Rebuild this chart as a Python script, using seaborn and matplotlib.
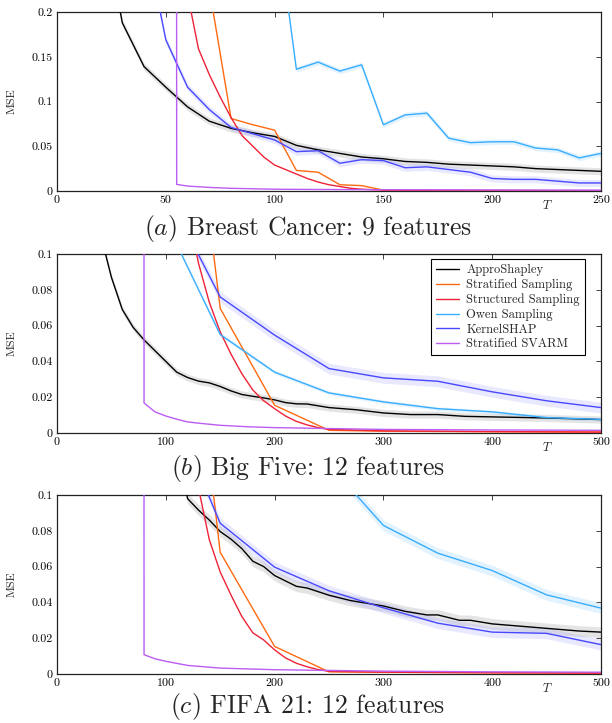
import numpy as np
import pandas as pd
import matplotlib
matplotlib.use("Agg")
import matplotlib.pyplot as plt
import seaborn as sns

# ---------------- data ----------------
methods = ["ApproShapley", "Stratified Sampling", "Structured Sampling",
           "Owen Sampling", "KernelSHAP", "Stratified SVARM"]
colors = ["#000000", "#FF6A10", "#EE2236", "#38AEFF", "#4848FF", "#BB5CF2"]

# Panel (a) Breast Cancer
a_appro_T = [20, 30, 40, 50, 60, 70, 80, 90, 100, 110, 120, 130, 140, 150, 160, 170, 180, 190, 200, 210, 220, 230, 240, 250]
a_appro = [0.32, 0.188, 0.139, 0.116, 0.094, 0.078, 0.070, 0.065, 0.061, 0.051, 0.046, 0.042, 0.038, 0.036, 0.033, 0.032, 0.030, 0.029, 0.028, 0.027, 0.025, 0.024, 0.023, 0.022]
a_strat_T = [70, 80, 90, 100, 110, 120, 130, 140, 150, 200, 250]
a_strat = [0.226, 0.081, 0.074, 0.068, 0.023, 0.021, 0.007, 0.006, 0.001, 0.0005, 0.0003]
a_struct_T = [60, 65, 70, 75, 80, 85, 90, 95, 100, 105, 110, 115, 120, 125, 130, 135, 140, 150, 175, 200, 250]
a_struct = [0.22, 0.159, 0.130, 0.105, 0.082, 0.062, 0.050, 0.038, 0.029, 0.024, 0.019, 0.014, 0.010, 0.007, 0.005, 0.003, 0.002, 0.001, 0.0006, 0.0004, 0.0003]
a_owen_T = [100, 110, 120, 130, 140, 150, 160, 170, 180, 190, 200, 210, 220, 230, 240, 250]
a_owen = [0.32, 0.136, 0.144, 0.134, 0.141, 0.074, 0.085, 0.087, 0.059, 0.054, 0.055, 0.055, 0.048, 0.046, 0.037, 0.042]
a_kernel_T = [40, 50, 60, 70, 80, 90, 100, 110, 120, 130, 140, 150, 160, 170, 180, 190, 200, 210, 220, 230, 240, 250]
a_kernel = [0.29, 0.169, 0.116, 0.091, 0.071, 0.064, 0.057, 0.044, 0.045, 0.031, 0.035, 0.034, 0.026, 0.027, 0.024, 0.021, 0.014, 0.013, 0.013, 0.011, 0.009, 0.009]
a_svarm_T = [50, 55, 60, 70, 80, 90, 100, 120, 150, 200, 250]
a_svarm = [30.0, 0.0074, 0.0055, 0.004, 0.003, 0.0025, 0.002, 0.0017, 0.0014, 0.0012, 0.001]

# Panel (b) Big Five
b_appro_T = [40, 50, 60, 70, 80, 90, 100, 110, 120, 130, 140, 150, 160, 170, 180, 190, 200, 210, 220, 230, 250, 275, 300, 325, 350, 375, 400, 450, 500]
b_appro = [0.111, 0.087, 0.069, 0.059, 0.052, 0.046, 0.040, 0.034, 0.031, 0.029, 0.028, 0.026, 0.0235, 0.0215, 0.0205, 0.0196, 0.0185, 0.017, 0.0163, 0.0162, 0.0142, 0.013, 0.0112, 0.0103, 0.0103, 0.0093, 0.009, 0.0084, 0.0075]
b_strat_T = [100, 150, 200, 250, 300, 400, 500]
b_strat = [0.32, 0.0696, 0.0155, 0.0015, 0.001, 0.0007, 0.0005]
b_struct_T = [120, 130, 140, 150, 160, 170, 180, 190, 200, 210, 220, 230, 240, 250, 300, 400, 500]
b_struct = [0.125, 0.095, 0.073, 0.0565, 0.044, 0.033, 0.024, 0.018, 0.0136, 0.0095, 0.0065, 0.0045, 0.003, 0.002, 0.0012, 0.0008, 0.0005]
b_owen_T = [100, 150, 200, 250, 300, 350, 400, 450, 500]
b_owen = [0.118, 0.055, 0.034, 0.0224, 0.0174, 0.0136, 0.0118, 0.0086, 0.0076]
b_kernel_T = [100, 150, 200, 250, 300, 350, 400, 450, 500]
b_kernel = [0.135, 0.076, 0.0547, 0.036, 0.0308, 0.0289, 0.023, 0.018, 0.0142]
b_svarm_T = [70, 80, 90, 100, 110, 120, 130, 150, 175, 200, 250, 300, 400, 500]
b_svarm = [30.0, 0.0168, 0.0118, 0.0095, 0.0077, 0.0062, 0.0055, 0.0043, 0.0035, 0.003, 0.0025, 0.002, 0.0017, 0.0015]

# Panel (c) FIFA 21
c_appro_T = [110, 120, 130, 140, 150, 160, 170, 180, 190, 200, 210, 220, 230, 240, 250, 260, 270, 280, 290, 300, 310, 320, 330, 340, 350, 360, 370, 380, 390, 400, 420, 440, 460, 480, 500]
c_appro = [0.13, 0.098, 0.0916, 0.086, 0.0796, 0.0753, 0.070, 0.063, 0.060, 0.055, 0.052, 0.049, 0.048, 0.046, 0.044, 0.0425, 0.041, 0.040, 0.039, 0.038, 0.0365, 0.035, 0.034, 0.033, 0.033, 0.0315, 0.030, 0.030, 0.029, 0.028, 0.027, 0.026, 0.025, 0.024, 0.0234]
c_strat_T = [100, 150, 200, 250, 300, 400, 500]
c_strat = [0.33, 0.068, 0.0154, 0.0012, 0.001, 0.0007, 0.0005]
c_struct_T = [120, 130, 140, 150, 160, 170, 180, 190, 200, 210, 220, 230, 240, 250, 300, 400, 500]
c_struct = [0.14, 0.104, 0.075, 0.057, 0.044, 0.032, 0.023, 0.019, 0.0135, 0.009, 0.006, 0.004, 0.0025, 0.0015, 0.001, 0.0007, 0.0005]
c_owen_T = [250, 300, 350, 400, 450, 500]
c_owen = [0.117, 0.083, 0.0675, 0.0578, 0.0442, 0.0368]
c_kernel_T = [100, 150, 200, 250, 300, 350, 400, 450, 500]
c_kernel = [0.157, 0.0842, 0.0597, 0.0465, 0.037, 0.0284, 0.0234, 0.0227, 0.0164]
c_svarm_T = [70, 80, 90, 100, 120, 150, 200, 250, 300, 400, 500]
c_svarm = [30.0, 0.0108, 0.0085, 0.0071, 0.0048, 0.0033, 0.0024, 0.002, 0.0016, 0.0012, 0.001]

# confidence half-widths (ApproShapley, Owen, KernelSHAP) per panel
a_band = [0.004, 0.003, 0.004]
b_band = [0.002, 0.001, 0.003]
c_band = [0.003, 0.003, 0.003]

captions = ["Breast Cancer: 9 features", "Big Five: 12 features", "FIFA 21: 12 features"]
letters = ["a", "b", "c"]
a_xticks = [0, 50, 100, 150, 200, 250]
bc_xticks = [0, 100, 200, 300, 400, 500]
a_yticks = [0, 0.05, 0.1, 0.15, 0.2]
a_yticklabels = ["0", "0.05", "0.1", "0.15", "0.2"]
bc_yticks = [0, 0.02, 0.04, 0.06, 0.08, 0.1]
bc_yticklabels = ["0", "0.02", "0.04", "0.06", "0.08", "0.1"]

# ---------------- style ----------------
sns.set_theme(style="white")
plt.rcParams["font.family"] = ["cmr10", "DejaVu Serif"]
plt.rcParams["mathtext.fontset"] = "cm"
plt.rcParams["axes.formatter.use_mathtext"] = True
plt.rcParams["axes.unicode_minus"] = False

fig = plt.figure(figsize=(6.12, 7.23), dpi=100)
W, H = 612, 723
ax_px = [(57, 12, 601, 191), (57, 254, 601, 433), (57, 495, 601, 674)]
caption_y = [229, 469, 707]

panels = [
    dict(series=[(a_appro_T, a_appro), (a_strat_T, a_strat), (a_struct_T, a_struct),
                 (a_owen_T, a_owen), (a_kernel_T, a_kernel), (a_svarm_T, a_svarm)],
         band=a_band, xmax=250, ymax=0.2, xt=a_xticks, yt=a_yticks, ytl=a_yticklabels),
    dict(series=[(b_appro_T, b_appro), (b_strat_T, b_strat), (b_struct_T, b_struct),
                 (b_owen_T, b_owen), (b_kernel_T, b_kernel), (b_svarm_T, b_svarm)],
         band=b_band, xmax=500, ymax=0.1, xt=bc_xticks, yt=bc_yticks, ytl=bc_yticklabels),
    dict(series=[(c_appro_T, c_appro), (c_strat_T, c_strat), (c_struct_T, c_struct),
                 (c_owen_T, c_owen), (c_kernel_T, c_kernel), (c_svarm_T, c_svarm)],
         band=c_band, xmax=500, ymax=0.1, xt=bc_xticks, yt=bc_yticks, ytl=bc_yticklabels),
]

band_idx = {0: 0, 3: 1, 4: 2}
band_colors = {0: "#888888", 3: "#7CC8FF", 4: "#9A9AFF"}

for p, (x0, y0, x1, y1) in enumerate(ax_px):
    ax = fig.add_axes([x0 / W, 1 - y1 / H, (x1 - x0) / W, (y1 - y0) / H])
    P = panels[p]
    for i, (T, v) in enumerate(P["series"]):
        T = np.asarray(T, float)
        v = np.asarray(v, float)
        if i in band_idx:
            hw = P["band"][band_idx[i]]
            ax.fill_between(T, v - hw, v + hw, color=band_colors[i], alpha=0.22, lw=0, zorder=1)
        df = pd.DataFrame({"T": T, "MSE": v})
        sns.lineplot(data=df, x="T", y="MSE", color=colors[i], lw=1.0, ax=ax,
                     label=methods[i], zorder=3, sort=False)
    ax.set_xlim(0, P["xmax"])
    ax.set_ylim(0, P["ymax"])
    ax.set_xticks(P["xt"])
    ax.set_xticklabels([str(t) for t in P["xt"]])
    ax.set_yticks(P["yt"])
    ax.set_yticklabels(P["ytl"])
    ax.tick_params(direction="in", length=3.5, width=0.6, top=True, right=True,
                   labelsize=8.6, pad=3, colors="#222222", labelcolor="black")
    for s in ax.spines.values():
        s.set_color("#222222")
        s.set_linewidth(0.9)
    ax.set_ylabel("MSE", fontsize=8.6)
    ax.yaxis.set_label_coords(-0.075, 0.5)
    ax.set_xlabel("$T$", fontsize=9)
    ax.xaxis.set_label_coords(0.9007, -0.045)
    leg = ax.get_legend()
    if leg is not None:
        leg.remove()
    if p == 1:
        handles = ax.get_lines()[:6]
        L = ax.legend(handles=handles, labels=methods, loc="upper right",
                      bbox_to_anchor=(0.9706, 0.972), borderaxespad=0,
                      fontsize=9, frameon=True, fancybox=False, framealpha=1,
                      edgecolor="black", handlelength=1.85, handletextpad=0.6,
                      labelspacing=0.2, borderpad=0.4)
        L.get_frame().set_linewidth(0.8)
    fig.text(0.503, 1 - caption_y[p] / H, "(" + "$" + letters[p] + "$" + ") " + captions[p],
             ha="center", va="center", fontsize=18.5)

fig.savefig("out.png", dpi=100)
